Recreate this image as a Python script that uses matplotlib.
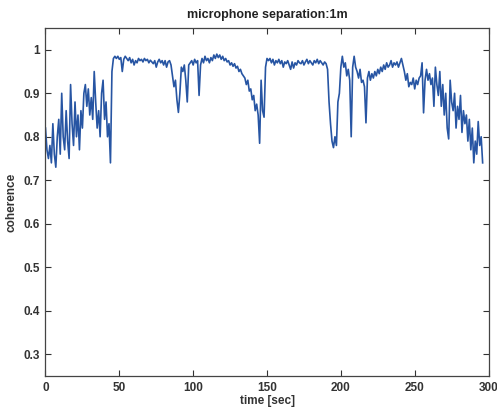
import numpy as np
import matplotlib
matplotlib.use('Agg')
import matplotlib.pyplot as plt

# coherence, one value per second (0 .. 296 s)
coherence = [
    0.82, 0.77, 0.75, 0.78, 0.74, 0.83, 0.76, 0.73, 0.80, 0.84,
    0.76, 0.90, 0.80, 0.77, 0.86, 0.79, 0.75, 0.92, 0.83, 0.78,
    0.88, 0.80, 0.85, 0.77, 0.86, 0.82, 0.90, 0.92, 0.87, 0.91,
    0.85, 0.89, 0.84, 0.95, 0.88, 0.82, 0.86, 0.80, 0.90, 0.93,
    0.84, 0.88, 0.80, 0.83, 0.74, 0.95, 0.98, 0.985, 0.98, 0.985,
    0.978, 0.982, 0.95, 0.978, 0.985, 0.98, 0.975, 0.982, 0.97, 0.978,
    0.965, 0.975, 0.97, 0.98, 0.975, 0.978, 0.972, 0.98, 0.975, 0.978,
    0.97, 0.976, 0.972, 0.968, 0.975, 0.96, 0.972, 0.978, 0.97, 0.975,
    0.965, 0.975, 0.96, 0.972, 0.975, 0.965, 0.94, 0.915, 0.93, 0.885,
    0.856, 0.90, 0.96, 0.95, 0.965, 0.93, 0.88, 0.965, 0.97, 0.975,
    0.965, 0.978, 0.97, 0.975, 0.895, 0.965, 0.98, 0.97, 0.985, 0.975,
    0.98, 0.97, 0.982, 0.975, 0.988, 0.98, 0.99, 0.982, 0.988, 0.978,
    0.985, 0.975, 0.98, 0.972, 0.975, 0.965, 0.97, 0.962, 0.968, 0.958,
    0.962, 0.95, 0.955, 0.945, 0.94, 0.935, 0.92, 0.93, 0.905, 0.91,
    0.885, 0.895, 0.86, 0.875, 0.85, 0.785, 0.93, 0.86, 0.845, 0.96,
    0.98, 0.975, 0.98, 0.97, 0.978, 0.965, 0.975, 0.97, 0.978, 0.968,
    0.975, 0.96, 0.972, 0.968, 0.975, 0.965, 0.955, 0.972, 0.958, 0.97,
    0.965, 0.975, 0.97, 0.968, 0.975, 0.965, 0.972, 0.978, 0.968, 0.975,
    0.97, 0.965, 0.975, 0.97, 0.978, 0.968, 0.975, 0.97, 0.965, 0.972,
    0.968, 0.955, 0.88, 0.83, 0.79, 0.775, 0.80, 0.78, 0.88, 0.90,
    0.96, 0.985, 0.96, 0.97, 0.94, 0.955, 0.93, 0.80, 0.96, 0.985,
    0.96, 0.95, 0.935, 0.955, 0.925, 0.93, 0.915, 0.832, 0.935, 0.95,
    0.93, 0.945, 0.935, 0.95, 0.94, 0.955, 0.945, 0.96, 0.95, 0.965,
    0.955, 0.97, 0.96, 0.965, 0.975, 0.96, 0.97, 0.965, 0.972, 0.96,
    0.97, 0.98, 0.965, 0.95, 0.93, 0.945, 0.915, 0.925, 0.92, 0.935,
    0.91, 0.93, 0.92, 0.935, 0.94, 0.97, 0.855, 0.93, 0.955, 0.93,
    0.945, 0.92, 0.935, 0.87, 0.96, 0.92, 0.895, 0.95, 0.87, 0.92,
    0.85, 0.90, 0.82, 0.795, 0.93, 0.88, 0.86, 0.90, 0.82, 0.87,
    0.84, 0.895, 0.81, 0.86, 0.83, 0.85, 0.79, 0.84, 0.77, 0.82,
    0.74, 0.79, 0.76, 0.835, 0.78, 0.80, 0.74,
]
time_sec = np.arange(len(coherence))

x_ticks = [0, 50, 100, 150, 200, 250, 300]
y_ticks = [0.3, 0.4, 0.5, 0.6, 0.7, 0.8, 0.9, 1.0]
y_tick_labels = ['0.3', '0.4', '0.5', '0.6', '0.7', '0.8', '0.9', '1']

plt.rcParams['font.family'] = ['Liberation Sans', 'DejaVu Sans']
plt.rcParams['font.weight'] = 'bold'

fig = plt.figure(figsize=(4.97, 4.12), dpi=100)
ax = fig.add_axes([0.0915, 0.0874, 0.8915, 0.8446])

ax.plot(time_sec, coherence, color='#2755a3', linewidth=1.2)

ax.set_xlim(0, 300)
ax.set_ylim(0.25, 1.05)
ax.set_xticks(x_ticks)
ax.set_yticks(y_ticks)
ax.set_yticklabels(y_tick_labels)
ax.tick_params(direction='in', top=True, right=True, length=4, width=0.8,
               labelsize=8.5, colors='#333333', pad=4)
for label in ax.get_xticklabels() + ax.get_yticklabels():
    label.set_fontweight('bold')
for spine in ax.spines.values():
    spine.set_linewidth(0.9)
    spine.set_color('#444444')

ax.set_title('microphone separation:1m', fontsize=9, fontweight='bold',
             color='#222222', pad=7)
ax.set_xlabel('time [sec]', fontsize=8.5, fontweight='bold', color='#333333',
              labelpad=1)
ax.set_ylabel('coherence', fontsize=8.5, fontweight='bold', color='#333333',
              labelpad=4)

fig.savefig('out.png', dpi=100, facecolor='white')
